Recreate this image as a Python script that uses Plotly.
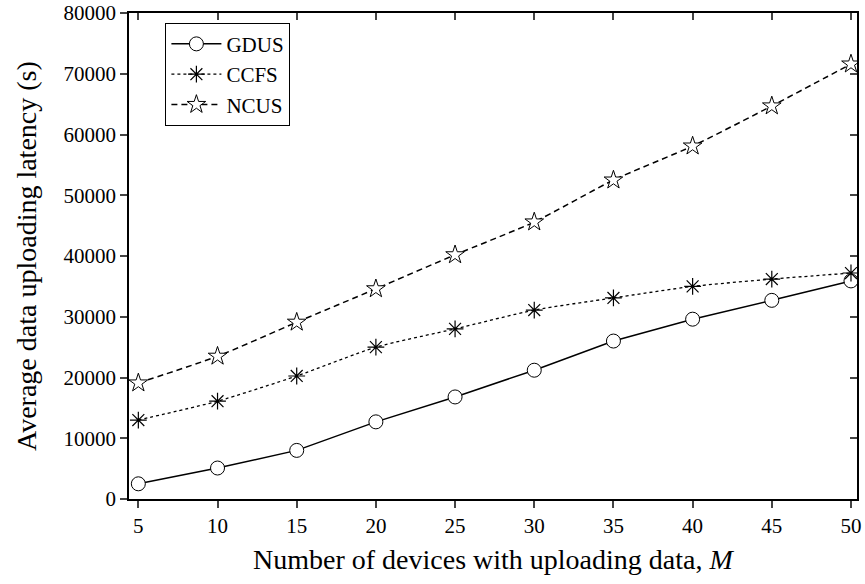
import plotly.graph_objects as go

M = [5, 10, 15, 20, 25, 30, 35, 40, 45, 50]
gdus = [2500, 5100, 8000, 12700, 16800, 21200, 26000, 29600, 32700, 35900]
ccfs = [13000, 16100, 20250, 25000, 28000, 31100, 33100, 35000, 36200, 37200]
ncus = [19100, 23500, 29100, 34600, 40200, 45600, 52500, 58100, 64700, 71600]

x_ticks = [5, 10, 15, 20, 25, 30, 35, 40, 45, 50]
y_ticks = [0, 10000, 20000, 30000, 40000, 50000, 60000, 70000, 80000]
y_labels = [str(v) for v in y_ticks]

FONT = "Liberation Serif, Times New Roman, serif"

fig = go.Figure()
fig.add_trace(go.Scatter(x=M, y=gdus, name="GDUS", mode="lines+markers",
                         line=dict(color="black", width=1.5),
                         marker=dict(symbol="circle", size=14, color="white",
                                     line=dict(color="black", width=1))))
fig.add_trace(go.Scatter(x=M, y=ccfs, name="CCFS", mode="lines+markers",
                         line=dict(color="black", width=1.3, dash="dot", shape="spline", smoothing=0.6),
                         marker=dict(symbol="asterisk-open", size=14, color="black",
                                     line=dict(color="black", width=1.2))))
fig.add_trace(go.Scatter(x=M, y=ncus, name="NCUS", mode="lines+markers",
                         line=dict(color="black", width=1.5, dash="6px,4px", shape="spline", smoothing=0.6),
                         marker=dict(symbol="star", size=14, color="white",
                                     line=dict(color="black", width=1))))
# invisible trace to anchor mirrored axes with inward ticks
fig.add_trace(go.Scatter(x=[M[0]], y=[gdus[0]], xaxis="x2", yaxis="y2",
                         mode="markers", marker=dict(opacity=0), showlegend=False, hoverinfo="skip"))

XR = [4.41, 50.38]
YR = [0, 80000]

fig.update_layout(
    width=865, height=584,
    margin=dict(l=129, r=8, t=13, b=85),
    plot_bgcolor="white", paper_bgcolor="white",
    font=dict(family=FONT, size=20, color="black"),
    showlegend=True,
    legend=dict(x=0.05, y=0.98, xanchor="left", yanchor="top",
                bgcolor="white", bordercolor="black", borderwidth=1,
                font=dict(family=FONT, size=21, color="black"),
                tracegroupgap=0, itemwidth=50),
    xaxis=dict(range=XR, tickvals=x_ticks, ticks="outside", ticklen=7, tickwidth=1.5,
               showline=True, linecolor="black", linewidth=1.5, showgrid=False, zeroline=False,
               tickfont=dict(family=FONT, size=21), automargin=False),
    yaxis=dict(range=YR, tickvals=y_ticks, ticktext=y_labels, ticks="outside", ticklen=7, tickwidth=1.5,
               showline=True, linecolor="black", linewidth=1.5, showgrid=False, zeroline=False,
               tickfont=dict(family=FONT, size=21), automargin=False),
    xaxis2=dict(range=XR, tickvals=x_ticks, overlaying="x", side="top", ticks="inside",
                ticklen=7, tickwidth=1.5, showticklabels=False, showline=True, automargin=False,
                linecolor="black", linewidth=1.5, showgrid=False, zeroline=False, anchor="y2"),
    yaxis2=dict(range=YR, tickvals=y_ticks, overlaying="y", side="right", ticks="inside",
                ticklen=7, tickwidth=1.5, showticklabels=False, showline=True, automargin=False,
                linecolor="black", linewidth=1.5, showgrid=False, zeroline=False, anchor="x2"),
    annotations=[
        dict(text="Number of devices with uploading data, <i>M</i>", xref="paper", yref="paper",
             x=0.5, y=(499 - 559) / 486, xanchor="center", yanchor="middle", showarrow=False,
             font=dict(family=FONT, size=28, color="black")),
        dict(text="Average data uploading latency (s)", xref="paper", yref="paper",
             x=(26 - 129) / 727.7, y=0.5, xanchor="center", yanchor="middle", showarrow=False,
             textangle=-90, font=dict(family=FONT, size=28, color="black")),
    ],
)

fig.write_html("out.html")
